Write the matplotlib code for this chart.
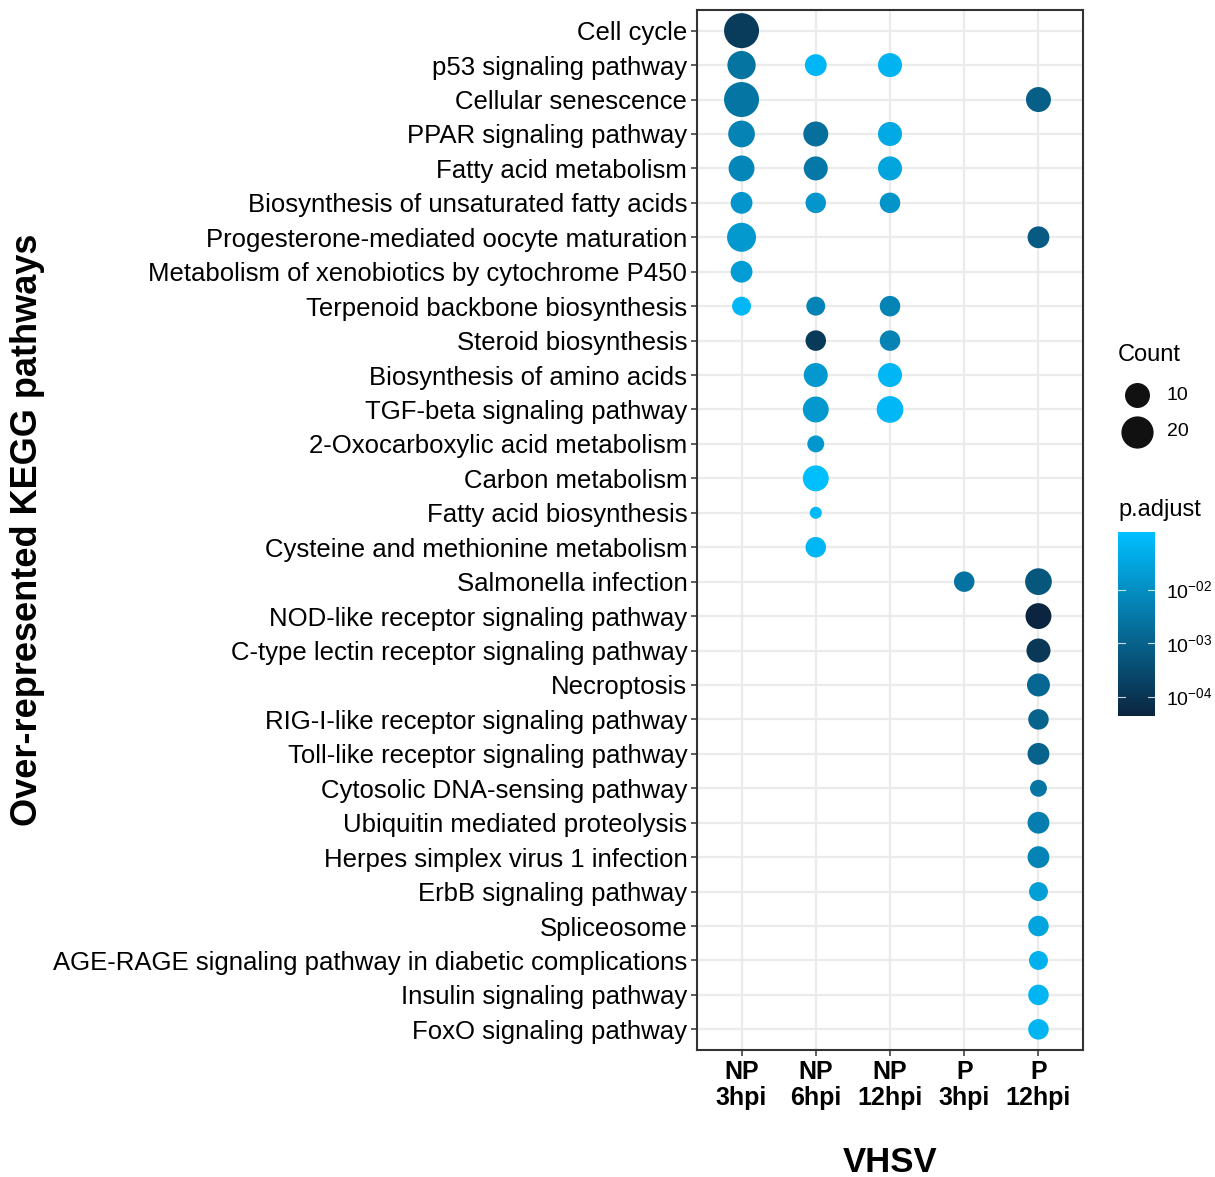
import numpy as np
import matplotlib
matplotlib.use("Agg")
import matplotlib.pyplot as plt
from matplotlib.colors import LinearSegmentedColormap, LogNorm

plt.rcParams['font.family'] = ['Liberation Sans', 'DejaVu Sans']

pathways = [
    "Cell cycle", "p53 signaling pathway", "Cellular senescence",
    "PPAR signaling pathway", "Fatty acid metabolism",
    "Biosynthesis of unsaturated fatty acids",
    "Progesterone-mediated oocyte maturation",
    "Metabolism of xenobiotics by cytochrome P450",
    "Terpenoid backbone biosynthesis", "Steroid biosynthesis",
    "Biosynthesis of amino acids", "TGF-beta signaling pathway",
    "2-Oxocarboxylic acid metabolism", "Carbon metabolism",
    "Fatty acid biosynthesis", "Cysteine and methionine metabolism",
    "Salmonella infection", "NOD-like receptor signaling pathway",
    "C-type lectin receptor signaling pathway", "Necroptosis",
    "RIG-I-like receptor signaling pathway", "Toll-like receptor signaling pathway",
    "Cytosolic DNA-sensing pathway", "Ubiquitin mediated proteolysis",
    "Herpes simplex virus 1 infection", "ErbB signaling pathway", "Spliceosome",
    "AGE-RAGE signaling pathway in diabetic complications",
    "Insulin signaling pathway", "FoxO signaling pathway",
]
groups = ["NP\n3hpi", "NP\n6hpi", "NP\n12hpi", "P\n3hpi", "P\n12hpi"]

pt_pathway = [
    "Cell cycle",
    "p53 signaling pathway", "p53 signaling pathway", "p53 signaling pathway",
    "Cellular senescence", "Cellular senescence",
    "PPAR signaling pathway", "PPAR signaling pathway", "PPAR signaling pathway",
    "Fatty acid metabolism", "Fatty acid metabolism", "Fatty acid metabolism",
    "Biosynthesis of unsaturated fatty acids", "Biosynthesis of unsaturated fatty acids",
    "Biosynthesis of unsaturated fatty acids",
    "Progesterone-mediated oocyte maturation", "Progesterone-mediated oocyte maturation",
    "Metabolism of xenobiotics by cytochrome P450",
    "Terpenoid backbone biosynthesis", "Terpenoid backbone biosynthesis",
    "Terpenoid backbone biosynthesis",
    "Steroid biosynthesis", "Steroid biosynthesis",
    "Biosynthesis of amino acids", "Biosynthesis of amino acids",
    "TGF-beta signaling pathway", "TGF-beta signaling pathway",
    "2-Oxocarboxylic acid metabolism", "Carbon metabolism",
    "Fatty acid biosynthesis", "Cysteine and methionine metabolism",
    "Salmonella infection", "Salmonella infection",
    "NOD-like receptor signaling pathway", "C-type lectin receptor signaling pathway",
    "Necroptosis", "RIG-I-like receptor signaling pathway",
    "Toll-like receptor signaling pathway", "Cytosolic DNA-sensing pathway",
    "Ubiquitin mediated proteolysis", "Herpes simplex virus 1 infection",
    "ErbB signaling pathway", "Spliceosome",
    "AGE-RAGE signaling pathway in diabetic complications",
    "Insulin signaling pathway", "FoxO signaling pathway",
]
pt_group = [
    0,
    0, 1, 2,
    0, 4,
    0, 1, 2,
    0, 1, 2,
    0, 1, 2,
    0, 4,
    0,
    0, 1, 2,
    1, 2,
    1, 2,
    1, 2,
    1, 1, 1, 1,
    3, 4,
    4, 4, 4, 4, 4, 4, 4, 4, 4, 4, 4, 4, 4,
]
pt_count = [
    25,
    14, 7, 9,
    25, 10,
    12, 10, 9,
    11, 9, 9,
    7, 6, 6,
    15, 7,
    7,
    5, 5, 6,
    6, 6,
    9, 9,
    11, 12,
    4, 11, 3, 6,
    6, 12,
    11, 9, 8, 6, 7, 4, 7, 7, 5, 6, 5, 6, 6,
]
pt_padj = [
    1.35e-4,
    2.5e-3, 7.5e-2, 6.5e-2,
    2.8e-3, 8.5e-4,
    5.3e-3, 2.0e-3, 4.0e-2,
    6.5e-3, 3.1e-3, 2.9e-2,
    1.35e-2, 1.35e-2, 1.3e-2,
    1.6e-2, 7.0e-4,
    2.1e-2,
    8.0e-2, 5.8e-3, 5.5e-3,
    1.3e-4, 5.3e-3,
    1.7e-2, 7.5e-2,
    1.6e-2, 8.0e-2,
    1.5e-2, 1.2e-1, 9.0e-2, 7.5e-2,
    2.4e-3, 5.6e-4,
    4.4e-5, 1.15e-4, 1.3e-3, 1.0e-3, 1.0e-3, 2.8e-3, 4.3e-3, 5.5e-3,
    2.3e-2, 3.0e-2, 5.5e-2, 7.0e-2, 7.0e-2,
]
legend_counts = [10, 20]
cbar_ticks = [1e-2, 1e-3, 1e-4]
cbar_ticklabels = ["10$^{\\mathregular{-02}}$", "10$^{\\mathregular{-03}}$", "10$^{\\mathregular{-04}}$"]

W, H, DPI = 1215, 1177, 100
fig = plt.figure(figsize=(W / DPI, H / DPI), dpi=DPI)

def fx(px):
    return px / W

def fy(py):
    return 1 - py / H

cmin, cmax = 3, 25
def diam_px(c):
    c = np.asarray(c, dtype=float)
    return 12 + 23 * np.sqrt((c - cmin) / (cmax - cmin))

def size_pts2(c):
    return (diam_px(c) * 72 / DPI) ** 2

cmap = LinearSegmentedColormap.from_list("pblue", ["#0b2540", "#00bfff"])
norm = LogNorm(vmin=min(pt_padj), vmax=max(pt_padj))

ax = fig.add_axes([fx(697), fy(1050), fx(1083 - 697), (1050 - 10) / H])
n = len(pathways)
ypos = {p: n - 1 - i for i, p in enumerate(pathways)}
xs = np.array(pt_group, dtype=float)
ys = np.array([ypos[p] for p in pt_pathway], dtype=float)
ax.scatter(xs, ys, s=size_pts2(pt_count), c=pt_padj, cmap=cmap, norm=norm,
           linewidths=0, zorder=3)
ax.set_xlim(-0.6, len(groups) - 1 + 0.6)
ax.set_ylim(-0.6, n - 1 + 0.6)
ax.set_xticks(range(len(groups)))
ax.set_xticklabels(groups, fontsize=18, fontweight='bold', linespacing=1.12)
ax.set_yticks([ypos[p] for p in pathways])
ax.set_yticklabels(pathways, fontsize=18.5)
ax.grid(True, color='#ebebeb', linewidth=1.6, zorder=0)
ax.set_axisbelow(True)
ax.tick_params(axis='both', length=4, width=1.1, color='#333333', pad=3)
for sp in ax.spines.values():
    sp.set_color('#333333')
    sp.set_linewidth(1.5)
ax.set_xlabel("VHSV", fontsize=25, fontweight='bold', labelpad=26)
fig.text(fx(28), fy(530), "Over-represented KEGG pathways", rotation=90,
         fontsize=26, fontweight='bold', ha='center', va='center')

# Count legend
fig.text(fx(1118), fy(355), "Count", fontsize=17, ha='left', va='center')
lax = fig.add_axes([0, 0, 1, 1], facecolor='none')
lax.set_xlim(0, W)
lax.set_ylim(H, 0)
lax.axis('off')
for c, yy in zip(legend_counts, [395, 432]):
    lax.scatter([1137], [yy], s=size_pts2(c), color='#111111', linewidths=0)
    lax.text(1167, yy, str(c), fontsize=14, ha='left', va='center')

# p.adjust colorbar
fig.text(fx(1118), fy(510), "p.adjust", fontsize=17, ha='left', va='center')
cax = fig.add_axes([fx(1118), fy(716), fx(37), (716 - 532) / H])
sm = matplotlib.cm.ScalarMappable(norm=norm, cmap=cmap)
cb = fig.colorbar(sm, cax=cax)
cb.outline.set_visible(False)
cb.set_ticks(cbar_ticks)
cb.set_ticklabels(cbar_ticklabels)
cb.minorticks_off()
cax.tick_params(length=0, labelsize=14, pad=8)
for t in cbar_ticks:
    cax.axhline(t, xmin=0, xmax=0.2, color='white', linewidth=0.8, alpha=0.8)
    cax.axhline(t, xmin=0.8, xmax=1, color='white', linewidth=0.8, alpha=0.8)

fig.savefig("out.png", dpi=DPI)
